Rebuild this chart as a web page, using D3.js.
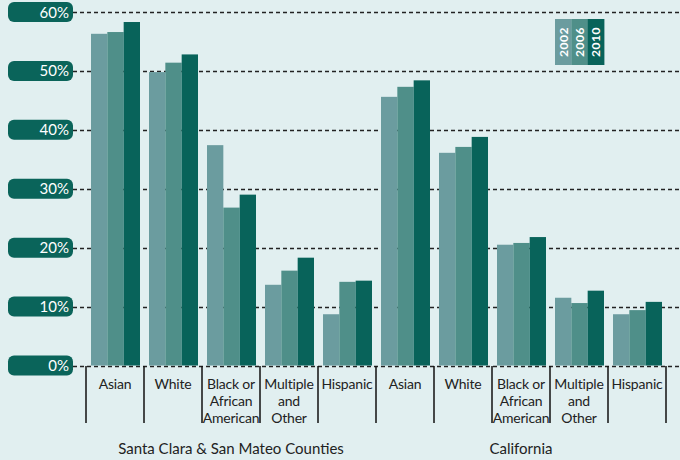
<!DOCTYPE html>
<html>
<head>
<meta charset="utf-8">
<script src="https://cdn.jsdelivr.net/npm/d3@7"></script>
<style>
  html, body { margin: 0; padding: 0; background: #e1eff0; }
  svg { display: block; font-family: Lato, "Open Sans", sans-serif; }
</style>
</head>
<body>
<div id="chart"></div>
<script>
/** Data **/
const regions = ['Santa Clara & San Mateo Counties', 'California'];
const groups = ['Asian', 'White', 'Black or African American', 'Multiple and Other', 'Hispanic'];
const groupLines = [['Asian'], ['White'], ['Black or', 'African', 'American'], ['Multiple', 'and', 'Other'], ['Hispanic']];
const years = ['2002', '2006', '2010'];
const yearColors = ['#6b9c9f', '#4f8f89', '#08635a'];
const yTicks = [0, 10, 20, 30, 40, 50, 60];

// values per region, per group: [2002, 2006, 2010]
const santaClara = [
  [56.3, 56.6, 58.3],
  [49.8, 51.4, 52.8],
  [37.4, 26.8, 29.0],
  [13.7, 16.1, 18.3],
  [8.7, 14.2, 14.4]
];
const california = [
  [45.6, 47.3, 48.4],
  [36.1, 37.1, 38.8],
  [20.5, 20.8, 21.8],
  [11.5, 10.6, 12.7],
  [8.7, 9.4, 10.8]
];

/** Build flat rows **/
const rows = [];
[santaClara, california].forEach((vals, r) => {
  groups.forEach((g, i) => {
    rows.push({ key: r + '-' + i, region: regions[r], group: g, lines: groupLines[i], values: vals[i] });
  });
});

/** Svg **/
const width = 680;
const height = 460;

const svg = d3
  .select('#chart')
  .append('svg')
  .attr('width', width)
  .attr('height', height);

svg.append('rect').attr('width', width).attr('height', height).attr('fill', '#e1eff0');

/** Scales **/
const x0 = d3.scaleBand().domain(rows.map((d) => d.key)).range([86, 666]).padding(0);
const x1 = d3.scaleBand().domain(years).range([5, 54]).padding(0);
const y = d3.scaleLinear().domain([0, 60]).range([365.5, 12]);

/** Gridlines (dashed) **/
svg
  .append('g')
  .selectAll('line')
  .data(yTicks)
  .join('line')
  .attr('x1', 73)
  .attr('x2', width)
  .attr('y1', (d) => Math.round(y(d)) + 0.5)
  .attr('y2', (d) => Math.round(y(d)) + 0.5)
  .attr('stroke', '#222')
  .attr('stroke-width', 1.4)
  .attr('stroke-dasharray', '4,3');

/** Bars **/
const bars = svg
  .append('g')
  .selectAll('g')
  .data(rows)
  .join('g')
  .attr('transform', (d) => `translate(${x0(d.key)},0)`);

bars
  .selectAll('rect')
  .data((d) => d.values.map((v, i) => ({ year: years[i], value: v, color: yearColors[i] })))
  .join('rect')
  .attr('x', (d) => x1(d.year))
  .attr('y', (d) => y(d.value))
  .attr('width', x1.bandwidth())
  .attr('height', (d) => y(0) - y(d.value))
  .attr('fill', (d) => d.color);

/** Y labels in pills **/
const yLab = svg
  .append('g')
  .selectAll('g')
  .data(yTicks)
  .join('g')
  .attr('transform', (d) => `translate(0,${y(d)})`);

yLab
  .append('rect')
  .attr('x', 8)
  .attr('y', -10)
  .attr('width', 65)
  .attr('height', 20)
  .attr('rx', 6)
  .attr('fill', '#0a645a');

yLab
  .append('text')
  .attr('x', 69)
  .attr('y', 5.5)
  .attr('text-anchor', 'end')
  .attr('fill', '#fff')
  .style('font-size', '15px')
  .text((d) => d + '%');

/** Category dividers **/
const bounds = rows.map((d) => x0(d.key)).concat([x0.range()[1]]);
svg
  .append('g')
  .selectAll('line')
  .data(bounds)
  .join('line')
  .attr('x1', (d) => d)
  .attr('x2', (d) => d)
  .attr('y1', 366)
  .attr('y2', 423)
  .attr('stroke', '#111')
  .attr('stroke-width', 1.5);

/** Category labels **/
svg
  .append('g')
  .selectAll('text')
  .data(rows)
  .join('text')
  .attr('x', (d) => x0(d.key) + x0.bandwidth() / 2)
  .attr('y', 389)
  .attr('text-anchor', 'middle')
  .attr('fill', '#222')
  .style('font-size', '14px')
  .style('letter-spacing', '-0.2px')
  .selectAll('tspan')
  .data((d) => d.lines)
  .join('tspan')
  .attr('x', function () { return this.parentNode.getAttribute('x'); })
  .attr('dy', (d, i) => (i === 0 ? 0 : 17))
  .text((d) => d);

/** Region labels **/
svg
  .append('g')
  .selectAll('text')
  .data(regions)
  .join('text')
  .attr('x', (d) => {
    const keys = rows.filter((r) => r.region === d).map((r) => x0(r.key));
    return (d3.min(keys) + d3.max(keys) + x0.bandwidth()) / 2;
  })
  .attr('y', 454)
  .attr('text-anchor', 'middle')
  .attr('fill', '#222')
  .style('font-size', '15px')
  .text((d) => d);

/** Legend **/
const legend = svg.append('g').attr('transform', 'translate(555,19)');
legend
  .selectAll('rect')
  .data(years)
  .join('rect')
  .attr('x', (d, i) => i * 16.4)
  .attr('y', 0)
  .attr('width', 16.6)
  .attr('height', 46)
  .attr('fill', (d, i) => yearColors[i]);

legend
  .selectAll('text')
  .data(years)
  .join('text')
  .attr('transform', (d, i) => `translate(${i * 16.4 + 12.5},23) rotate(-90)`)
  .attr('text-anchor', 'middle')
  .attr('fill', '#fff')
  .style('font-size', '12px')
  .style('font-weight', 'bold')
  .style('letter-spacing', '0.5px')
  .text((d) => d);
</script>
</body>
</html>
